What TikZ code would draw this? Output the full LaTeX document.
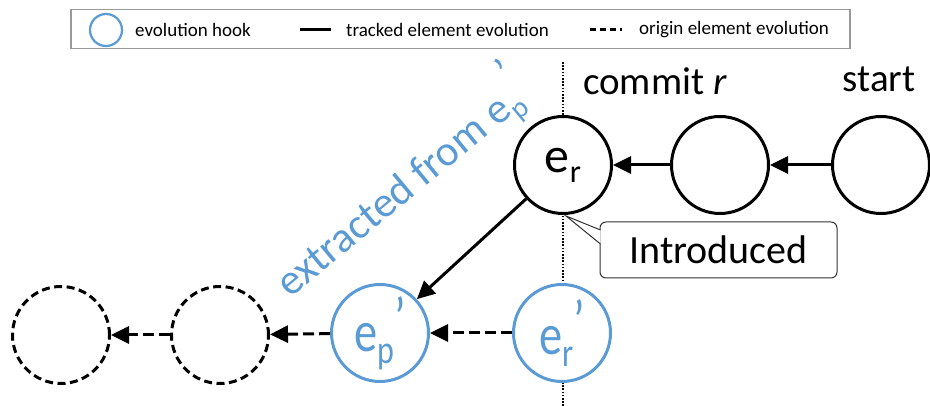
\documentclass[tikz,border=0pt]{standalone}
\usepackage{fontspec}
\setmainfont{Carlito}
\usetikzlibrary{arrows.meta}
\definecolor{hookblue}{RGB}{91,155,213}
\tikzset{
  evo/.style={circle, draw=black, line width=3pt, minimum size=97pt, inner sep=0pt, fill=white},
  hook/.style={evo, draw=hookblue, text=hookblue},
  orig/.style={evo, dash pattern=on 8pt off 4.5pt},
  arr/.style={line width=3pt, -{Triangle[length=18pt,width=17pt]}},
  darr/.style={arr, dash pattern=on 11pt off 5pt},
  big/.style={font=\fontsize{39}{39}\selectfont},
  lab/.style={font=\fontsize{19}{19}\selectfont, anchor=west, inner sep=0pt},
}
\newcommand{\blackelab}[1]{\fontsize{50}{50}\selectfont e\raisebox{-0.2em}{\fontsize{32}{32}\selectfont #1}}
\newcommand{\blueelab}[1]{\scalebox{0.8}[1]{\fontsize{58}{58}\selectfont e\raisebox{-0.2em}{\fontsize{40}{40}\selectfont #1}\raisebox{0.25em}{’}}}
\begin{document}
\begin{tikzpicture}[x=1pt,y=-1pt]
\useasboundingbox (0,0) rectangle (930,406);
% legend
\node[draw=black!40, line width=1.5pt, fill=white, minimum width=779pt, minimum height=39pt, anchor=north west, inner sep=0pt] (legend) at (70,9) {};
\node[circle, draw=hookblue, line width=2.2pt, minimum width=28pt, minimum height=32pt, inner sep=0pt] (lhook) at (106,30) {};
\node[lab] (lhookt) at (135,30) {evolution hook};
\coordinate (ls1) at (300,30); \coordinate (ls2) at (331,30);
\draw[line width=3pt] (ls1) -- (ls2);
\node[lab] (ltrack) at (346,30) {tracked element evolution};
\coordinate (ld1) at (590,30); \coordinate (ld2) at (622,30);
\draw[line width=3pt, dash pattern=on 6pt off 4pt] (ld1) -- (ld2);
\node[lab] (lorig) at (639,30) {origin element evolution};
% dotted commit line
\coordinate (dtop) at (563,62); \coordinate (dbot) at (563,406);
\draw[line width=2pt, dash pattern=on 1.6pt off 1.6pt] (dtop) -- (dbot);
% nodes
\node[evo] (er) at (563,165) {\raisebox{-0.1em}{\blackelab{r}}};
\node[evo] (mid) at (720,165) {};
\node[evo] (start) at (881,165) {};
\node[hook] (erp) at (562,333) {\blueelab{r}};
\node[hook] (epp) at (380,333) {\blueelab{p}};
\node[orig] (o2) at (220,335) {};
\node[orig] (o1) at (61,335) {};
% labels
\node[big] (commit) at (655,81) {commit \textit{r}};
\node[big] (startl) at (879,79) {start};
% arrows
\draw[arr] (start) -- (mid);
\draw[arr] (mid) -- (er);
\draw[arr] (er) -- (epp);
\draw[darr] (erp) -- (epp);
\draw[darr] (epp) -- (o2);
\draw[darr] (o2) -- (o1);
% extracted label
\node[text=hookblue, rotate=39.6, font=\fontsize{43}{43}\selectfont, anchor=base west, inner sep=0pt] (extr) at (290,299) {extracted from e\raisebox{-0.2em}{\fontsize{29}{29}\selectfont p}\raisebox{0.55em}{’}};
% callout
\node[draw=black!80, line width=1pt, rounded corners=6pt, fill=white, minimum width=237pt, minimum height=56pt, inner sep=0pt, font=\fontsize{40}{40}\selectfont] (intro) at (718.5,250) {Introduced};
\coordinate (tip) at (566,216);
\coordinate (pb1) at (600.5,230); \coordinate (pb2) at (600.5,244);
\fill[white] (pb1) -- (tip) -- (pb2) -- cycle;
\draw[black!80, line width=1pt] (pb1) -- (tip) -- (pb2);
\end{tikzpicture}
\end{document}
